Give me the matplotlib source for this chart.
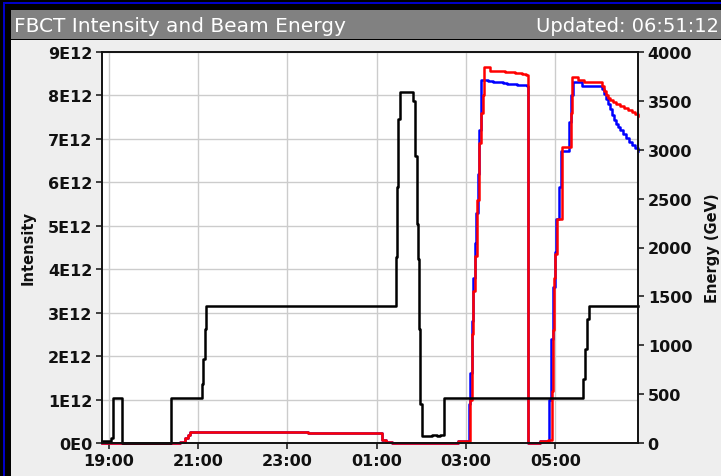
import matplotlib
matplotlib.use("Agg")
import matplotlib.pyplot as plt
from matplotlib.patches import Rectangle

# ---------------- data (time in hours; >24 means after midnight) ----------------
x_ticks = [19, 21, 23, 25, 27, 29]
x_tick_labels = ["19:00", "21:00", "23:00", "01:00", "03:00", "05:00"]
left_ticks = [0, 1e12, 2e12, 3e12, 4e12, 5e12, 6e12, 7e12, 8e12, 9e12]
left_tick_labels = ["0E0", "1E12", "2E12", "3E12", "4E12", "5E12", "6E12", "7E12", "8E12", "9E12"]
right_ticks = [0, 500, 1000, 1500, 2000, 2500, 3000, 3500, 4000]

# Beam energy (GeV), black, right axis
t_energy = [18.853, 19.055, 19.093, 19.294, 20.391, 21.092, 21.125, 21.159, 21.192,
            25.435, 25.457, 25.491, 25.524, 25.815, 25.860, 25.905, 25.938, 25.961,
            25.983, 26.010, 26.241, 26.353, 26.420, 26.510,
            29.622, 29.666, 29.711, 29.756, 30.853]
energy = [20, 50, 460, 0, 460, 600, 860, 1170, 1400,
          1900, 2620, 3310, 3590, 3500, 2940, 2240, 1880, 1170,
          400, 70, 85, 70, 80, 460,
          650, 960, 1270, 1400, 1400]

# Beam 1 intensity (red, left axis)
t_b1 = [18.853, 20.599, 20.711, 20.785, 20.823, 23.465, 25.115, 25.211, 25.338, 26.823,
        27.102, 27.136, 27.170, 27.203, 27.248, 27.293, 27.338, 27.382, 27.405,
        27.540, 27.876, 28.100, 28.255, 28.345, 28.390, 28.658, 28.837,
        28.927, 28.949, 28.983, 29.005, 29.050, 29.162, 29.363, 29.386, 29.509, 29.643,
        30.002, 30.047, 30.092, 30.136, 30.181, 30.226, 30.293, 30.360, 30.450, 30.539,
        30.629, 30.718, 30.785, 30.853]
b1 = [0.01e12, 0.02e12, 0.11e12, 0.18e12, 0.26e12, 0.23e12, 0.08e12, 0.03e12, 0.01e12, 0.05e12,
      1.0e12, 2.5e12, 3.5e12, 4.3e12, 5.6e12, 6.9e12, 7.6e12, 8.0e12, 8.65e12,
      8.57e12, 8.55e12, 8.51e12, 8.49e12, 8.47e12, 0.0, 0.05e12, 0.07e12,
      1.2e12, 2.6e12, 3.8e12, 4.35e12, 5.16e12, 6.81e12, 7.6e12, 8.42e12, 8.36e12, 8.32e12,
      8.31e12, 8.22e12, 8.10e12, 8.01e12, 7.94e12, 7.90e12, 7.85e12, 7.80e12, 7.76e12, 7.71e12,
      7.67e12, 7.62e12, 7.57e12, 7.53e12]

# Beam 2 intensity (blue, left axis)
t_b2 = [18.853, 20.599, 20.711, 20.785, 20.823, 23.465, 25.115, 25.211, 25.338, 26.823,
        27.069, 27.102, 27.136, 27.170, 27.203, 27.237, 27.270, 27.304, 27.331,
        27.494, 27.606, 27.830, 27.920, 28.143, 28.360, 28.390, 28.658,
        28.860, 28.905, 28.949, 28.994, 29.028, 29.095, 29.129, 29.319, 29.352, 29.397, 29.598,
        30.047, 30.092, 30.136, 30.181, 30.226, 30.271, 30.316, 30.360, 30.405, 30.450,
        30.517, 30.584, 30.651, 30.718, 30.785, 30.853]
b2 = [0.01e12, 0.02e12, 0.11e12, 0.18e12, 0.26e12, 0.23e12, 0.08e12, 0.03e12, 0.01e12, 0.05e12,
      0.9e12, 1.6e12, 2.8e12, 3.8e12, 4.6e12, 5.3e12, 6.2e12, 7.2e12, 8.36e12,
      8.34e12, 8.30e12, 8.29e12, 8.26e12, 8.24e12, 8.22e12, 0.0, 0.05e12,
      1.0e12, 2.4e12, 3.6e12, 4.4e12, 5.16e12, 5.9e12, 6.73e12, 7.4e12, 8.0e12, 8.31e12, 8.22e12,
      8.15e12, 8.03e12, 7.92e12, 7.80e12, 7.69e12, 7.55e12, 7.43e12, 7.34e12, 7.27e12, 7.20e12,
      7.11e12, 7.02e12, 6.93e12, 6.86e12, 6.79e12, 6.72e12]

title = "FBCT Intensity and Beam Energy"
updated = "Updated: 06:51:12"

# ---------------- figure ----------------
W, H = 721, 477
plt.rcParams["font.family"] = ["DejaVu Sans"]
fig = plt.figure(figsize=(W / 100, H / 100), dpi=100, facecolor="black")


def rect(x0, y0, x1, y1, color):
    fig.add_artist(Rectangle((x0 / W, 1 - y1 / H), (x1 - x0) / W, (y1 - y0) / H,
                             transform=fig.transFigure, facecolor=color,
                             edgecolor="none", zorder=-10))


rect(3, 3, 5, H, "#0000c8")
rect(3, 3, W, 5, "#0000c8")
rect(11, 11, W, 40, "#818181")
rect(11, 41, W, H, "#eeeeee")

fig.text(14 / W, 1 - 26 / H, title, color="white", fontsize=14.5,
         ha="left", va="center")
fig.text(719 / W, 1 - 26 / H, updated, color="white", fontsize=14,
         ha="right", va="center")

ax = fig.add_axes([102 / W, 1 - 444 / H, 536 / W, 391 / H])
ax.set_facecolor("white")
ax2 = ax.twinx()

ax.plot(t_b2, b2, color="#0000ff", lw=1.8, drawstyle="steps-post", clip_on=False)
ax.plot(t_b1, b1, color="#ff0000", lw=1.8, drawstyle="steps-post", clip_on=False)
ax2.plot(t_energy, energy, color="black", lw=1.8, drawstyle="steps-post", clip_on=False)

ax.set_xlim(18.8533, 30.8533)
ax.set_ylim(0, 9e12)
ax2.set_ylim(0, 4000)

ax.set_xticks(x_ticks)
ax.set_xticklabels(x_tick_labels)
ax.set_yticks(left_ticks)
ax.set_yticklabels(left_tick_labels)
ax2.set_yticks(right_ticks)
ax2.set_yticklabels([str(v) for v in right_ticks])

ax.grid(True, color="#cccccc", lw=1.0)
ax.set_axisbelow(True)

for a in (ax, ax2):
    a.tick_params(direction="out", length=4.5, width=1.1, labelsize=11.5,
                  pad=2.5, colors="#111111")
    for s in a.spines.values():
        s.set_linewidth(1.2)
        s.set_color("#111111")
    for lab in a.get_xticklabels() + a.get_yticklabels():
        lab.set_fontweight("bold")

fig.text(28 / W, 1 - 248 / H, "Intensity", rotation=90, fontsize=10.5,
         fontweight="bold", ha="center", va="center", color="#111111")
fig.text(713 / W, 1 - 248 / H, "Energy (GeV)", rotation=90, fontsize=10.5,
         fontweight="bold", ha="center", va="center", color="#111111")

fig.savefig("out.png", dpi=100, facecolor=fig.get_facecolor())
